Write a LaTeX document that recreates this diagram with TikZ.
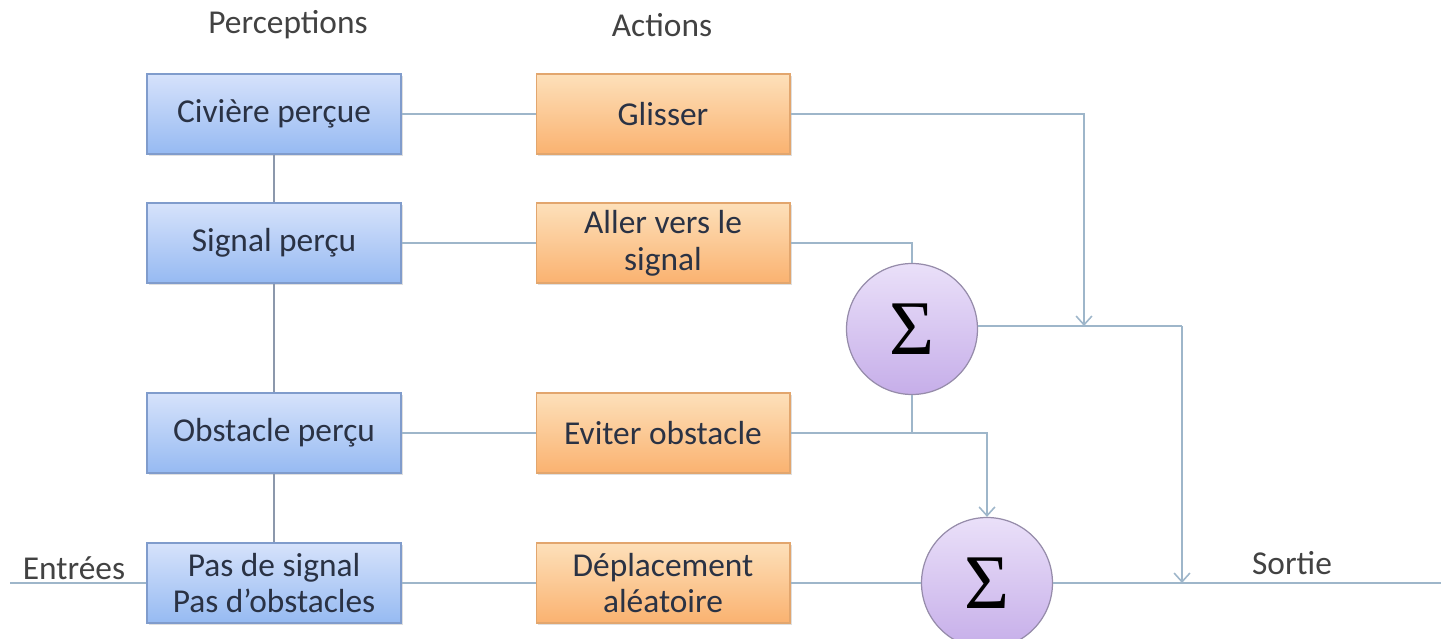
\documentclass[tikz,border=0pt]{standalone}
\usepackage{fontspec}
\setmainfont{Carlito}
\newfontfamily\sigfont{Liberation Serif}
\usetikzlibrary{arrows.meta,shadows}
\definecolor{wirecol}{RGB}{158,182,202}
\definecolor{chaincol}{RGB}{140,152,172}
\definecolor{txtcol}{RGB}{42,50,68}
\definecolor{lblcol}{RGB}{66,66,66}
\definecolor{blueTop}{RGB}{214,226,251}
\definecolor{blueBot}{RGB}{150,186,242}
\definecolor{blueEdge}{RGB}{128,156,204}
\definecolor{orTop}{RGB}{253,224,186}
\definecolor{orBot}{RGB}{250,178,112}
\definecolor{orEdge}{RGB}{226,166,110}
\definecolor{sumTop}{RGB}{234,224,249}
\definecolor{sumBot}{RGB}{198,174,233}
\definecolor{sumEdge}{RGB}{150,140,170}
\tikzset{
  box/.style={rectangle, minimum width=5.08cm, minimum height=1.6cm, align=center,
    text=txtcol, font=\fontsize{19}{21}\selectfont, line width=0.6pt,
    drop shadow={shadow xshift=1.2pt, shadow yshift=-1.2pt, opacity=0.25}},
  perc/.style={box, draw=blueEdge, top color=blueTop, bottom color=blueBot},
  act/.style={box, draw=orEdge, top color=orTop, bottom color=orBot},
  sumnode/.style={circle, minimum size=2.62cm, inner sep=0pt, draw=sumEdge, line width=0.7pt,
    top color=sumTop, bottom color=sumBot, text=black, font=\sigfont\fontsize{44}{44}\selectfont},
  wire/.style={draw=wirecol, line width=1.1pt},
  chain/.style={draw=chaincol, line width=1.1pt},
  tip/.style={-{Straight Barb[length=5pt,width=9pt,line width=0.9pt]}},
  lbl/.style={text=lblcol, font=\fontsize{19}{21}\selectfont}
}
\begin{document}
\begin{tikzpicture}[x=0.02cm,y=-0.02cm]
\useasboundingbox (0,0) rectangle (1441,639);

% column headings
\node[lbl] (hp) at (288,25) {Perceptions};
\node[lbl] (ha) at (662,25) {Actions};

% perception boxes
\node[perc] (p1) at (274,114) {Civière perçue};
\node[perc] (p2) at (274,243) {Signal perçu};
\node[perc] (p3) at (274,433) {Obstacle perçu};
\node[perc] (p4) at (274,583) {Pas de signal\\Pas d’obstacles};

% action boxes
\node[act] (a1) at (663,114) {Glisser};
\node[act] (a2) at (663,243) {Aller vers le\\signal};
\node[act] (a3) at (663,433) {Eviter obstacle};
\node[act] (a4) at (663,583) {Déplacement\\aléatoire};

% summing junctions
\node[sumnode] (s1) at (912,329) {Σ};
\node[sumnode] (s2) at (987,583) {Σ};

% end points of the main line
\coordinate (in) at (10,583);
\coordinate (out) at (1441,583);
\coordinate (c1) at (1182,326);
\coordinate (g1) at (1084,326);

% labels on the main line
\node[lbl] (le) at (74,568) {Entrées};
\node[lbl] (ls) at (1292,563) {Sortie};

% perception chain
\draw[chain] (p1.south) -- (p2.north);
\draw[chain] (p2.south) -- (p3.north);
\draw[chain] (p3.south) -- (p4.north);

% perceptions to actions
\draw[wire] (in) -- (p4.west);
\draw[wire] (p1.east) -- (a1.west);
\draw[wire] (p2.east) -- (a2.west);
\draw[wire] (p3.east) -- (a3.west);
\draw[wire] (p4.east) -- (a4.west);

% actions to the summing junctions
\draw[wire,tip] (a1.east) -| (g1);
\draw[wire] (a2.east) -| (s1.north);
\draw[wire] (s1.south) -- (s1.south |- a3.east);
\draw[wire,tip] (a3.east) -| (s2.north);
\draw[wire] (a4.east) -- (s2.west);

% outputs
\draw[wire] (s1.east |- c1) -- (c1);
\draw[wire,tip] (c1) -- (c1 |- out);
\draw[wire] (s2.east) -- (out);
\end{tikzpicture}
\end{document}
